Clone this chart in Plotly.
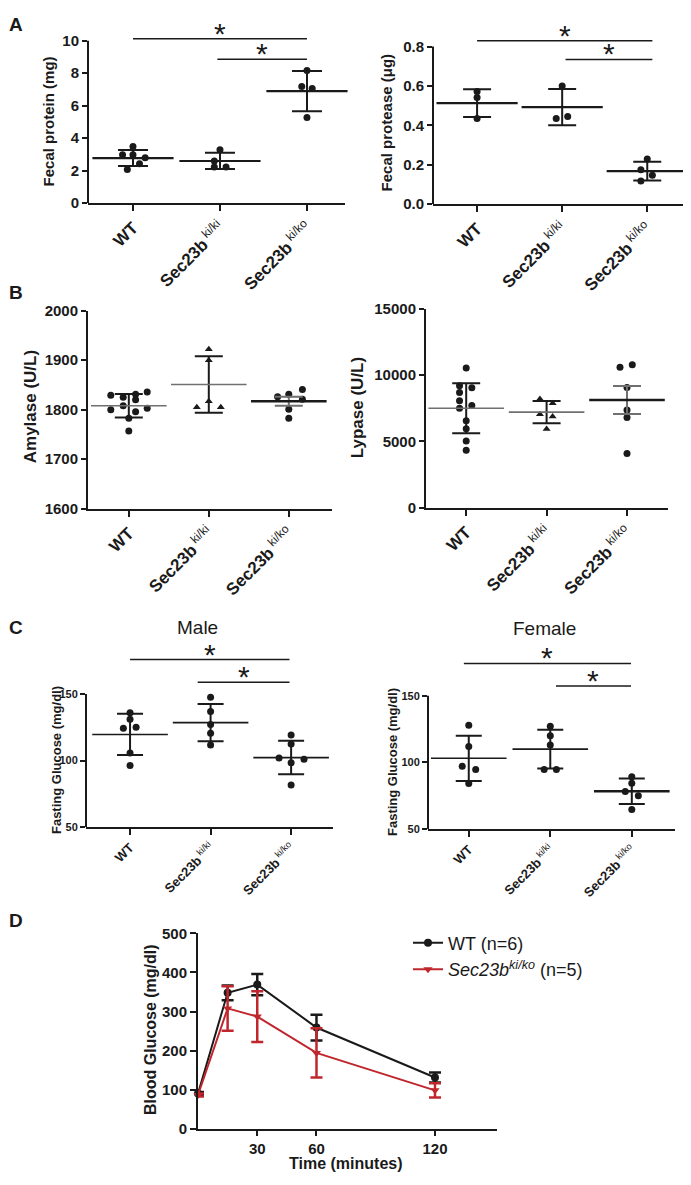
import plotly.graph_objects as go

# the page puts an 8px body margin round the figure, so the figure is drawn
# 16px smaller than the 691x1185 window and every position is measured from the window
W, H = 691, 1185
OFF = 8
FW, FH = W - 2 * OFF, H - 2 * OFF

FONT = "Liberation Sans, Arial, sans-serif"
BLACK = "#1a1a1a"
GREY = "#707070"
RED = "#c0272d"

groups = ["WT", "Sec23b ki/ki", "Sec23b ki/ko"]
group_ticks = ["<b>WT</b>", "<b>Sec23b</b><sup> ki/ki</sup>", "<b>Sec23b</b><sup> ki/ko</sup>"]

# A - fecal protein (mg)
protein_wt = [3.49, 2.98, 2.98, 2.80, 2.07, 2.43]
protein_kiki = [3.29, 2.60, 2.23, 2.23]
protein_kiko = [8.17, 7.18, 7.06, 5.27]
protein_mean = [2.78, 2.60, 6.90]
protein_sd = [0.49, 0.50, 1.24]

# A - fecal protease (ug)
protease_wt = [0.572, 0.542, 0.435]
protease_kiki = [0.600, 0.435, 0.445]
protease_kiko = [0.230, 0.175, 0.147, 0.118]
protease_mean = [0.513, 0.493, 0.168]
protease_sd = [0.070, 0.092, 0.048]

# B - amylase (U/L)
amylase_wt = [1829, 1825, 1831, 1836, 1808, 1820, 1800, 1796, 1803, 1783, 1757]
amylase_kiki = [1922, 1900, 1817, 1805, 1805]
amylase_kiko = [1826, 1831, 1841, 1821, 1801, 1783]
amylase_mean = [1808, 1851, 1817]
amylase_err = [23.5, 57, 9]

# B - lypase (U/L)
lypase_wt = [10523, 9186, 9037, 8688, 8072, 7500, 7700, 6557, 5963, 5027, 4329]
lypase_kiki = [8191, 7872, 7055, 6884, 5941]
lypase_kiko = [10597, 10768, 9060, 7374, 6810, 4084]
lypase_mean = [7500, 7203, 8117]
lypase_err = [1882, 840, 1050]

# C - fasting glucose (mg/dl), male / female
male_wt = [135.9, 131.0, 124.2, 125.0, 105.6, 96.2]
male_kiki = [147.5, 136.9, 127.0, 120.4, 111.7]
male_kiko = [119.1, 112.5, 101.9, 98.3, 101.0, 81.6]
male_mean = [119.6, 128.5, 102.2]
male_sd = [15.5, 14.0, 12.6]

female_wt = [127.9, 111.9, 97.2, 94.7, 84.2]
female_kiki = [127.1, 120.0, 113.1, 94.7, 94.7]
female_kiko = [89.2, 84.3, 78.1, 74.9, 64.6]
female_mean = [103.1, 110.0, 78.4]
female_sd = [17.0, 14.5, 9.6]

# D - glucose tolerance
minutes = [0, 15, 30, 60, 120]
gtt_wt = [90, 348, 369, 259, 131]
gtt_wt_err = [4, 19, 27, 33, 13]
gtt_kiko = [86, 308, 287, 194, 98]
gtt_kiko_err = [4, 57, 65, 63, 18]

# horizontal spread of the dots inside each column (in category units)
jit_protein = [[0, -0.12, 0, 0.14, -0.065, 0.075], [0, -0.065, -0.065, 0.07], [0, -0.06, 0.06, 0]]
jit_protease = [[0, 0, 0], [0, -0.07, 0.065], [0, -0.075, 0.06, -0.075]]
jit_amylase = [[-0.225, -0.07, 0.085, 0.23, -0.07, 0.085, -0.225, 0.085, 0.23, 0, 0],
               [0, 0, 0, -0.15, 0.15], [-0.14, 0, 0.17, 0.17, 0, 0]]
jit_lypase = [[0, -0.083, 0.07, -0.083, -0.083, -0.083, 0.07, 0, 0, 0, 0],
              [-0.083, 0.075, -0.083, 0.075, 0], [-0.087, 0.066, 0, 0, 0, 0]]
jit_male = [[0, 0, -0.083, 0.075, 0, 0], [0, 0, 0, 0, 0], [0, 0, -0.15, 0, 0.16, 0]]
jit_female = [[0, 0, -0.08, 0.085, 0], [0, 0, 0, -0.075, 0.075], [0, 0, -0.08, 0.08, 0]]


def px(x):
    return (x - OFF) / FW


def py(y):
    return 1 - (y - OFF) / FH


def xd(a, b):
    return [px(a), px(b)]


def yd(top, bottom):
    return [py(bottom), py(top)]


def names(i):
    return ("x" if i == 1 else f"x{i}"), ("y" if i == 1 else f"y{i}")


fig = go.Figure()
annotations = []
shapes = []


def dot_panel(i, vals, jit, mean, err, symbols, mean_col, mean_w, err_col, half, cap, dot=7):
    xn, yn = names(i)
    for g in range(3):
        fig.add_trace(go.Scatter(
            x=[g + d for d in jit[g]], y=vals[g], mode="markers",
            marker=dict(symbol=symbols[g], size=dot, color=BLACK),
            xaxis=xn, yaxis=yn, showlegend=False, cliponaxis=False))
        fig.add_trace(go.Scatter(
            x=[g], y=[mean[g]], mode="markers",
            marker=dict(symbol="line-ew", size=2 * half, color=mean_col[g],
                        line=dict(width=mean_w[g], color=mean_col[g])),
            error_y=dict(type="data", array=[err[g]], width=cap, thickness=2, color=err_col[g]),
            xaxis=xn, yaxis=yn, showlegend=False, cliponaxis=False))


def sig(i, x0, x1, h, star_size=30):
    xn, yn = names(i)
    fig.add_trace(go.Scatter(x=[x0, x1], y=[h, h], mode="lines",
                             line=dict(color=BLACK, width=1.5),
                             xaxis=xn, yaxis=yn, showlegend=False, hoverinfo="skip"))
    annotations.append(dict(x=(x0 + x1) / 2, y=h, xref=xn, yref=yn, text="*",
                            showarrow=False, yanchor="bottom", yshift=-13,
                            font=dict(size=star_size, color=BLACK, family=FONT)))


def yline(i, xpx, y0, y1):
    xn, yn = names(i)
    shapes.append(dict(type="line", xref="paper", yref=yn, x0=px(xpx), x1=px(xpx), y0=y0, y1=y1,
                       line=dict(color=BLACK, width=2)))


def ytitle(text, x, y, size):
    annotations.append(dict(x=px(x), y=py(y), xref="paper", yref="paper", text=text,
                            textangle=-90, showarrow=False, xanchor="center", yanchor="middle",
                            font=dict(size=size, color=BLACK, family=FONT, weight="bold")))


circles = ["circle"] * 3
thick = [2.2, 2.2, 2.2]

# A
dot_panel(1, [protein_wt, protein_kiki, protein_kiko], jit_protein, protein_mean, protein_sd,
          circles, [BLACK] * 3, thick, [BLACK] * 3, 29, 15)
sig(1, 0, 2, 10.12)
sig(1, 0.97, 2, 8.85)
yline(1, 88, 0, 10)

dot_panel(2, [protease_wt, protease_kiki, protease_kiko], jit_protease, protease_mean, protease_sd,
          circles, [BLACK] * 3, thick, [BLACK] * 3, 29, 14)
sig(2, 0, 2.06, 0.83)
sig(2, 1.04, 2.06, 0.735)
yline(2, 433, 0, 0.8)

# B
dot_panel(3, [amylase_wt, amylase_kiki, amylase_kiko], jit_amylase, amylase_mean, amylase_err,
          ["circle", "triangle-up", "circle"], [GREY, GREY, BLACK], [1.6, 1.6, 2.6],
          [BLACK, BLACK, GREY], 27, 14)
dot_panel(4, [lypase_wt, lypase_kiki, lypase_kiko], jit_lypase, lypase_mean, lypase_err,
          ["circle", "triangle-up", "circle"], [GREY, GREY, BLACK], [1.6, 1.6, 2.6],
          [BLACK, BLACK, GREY], 27, 14)

# C
dot_panel(5, [male_wt, male_kiki, male_kiko], jit_male, male_mean, male_sd,
          circles, [BLACK] * 3, [1.6, 1.6, 1.6], [BLACK] * 3, 27, 13)
sig(5, 0, 1.98, 175.9)
sig(5, 0.84, 1.98, 158.9)
yline(5, 86, 50, 150)

dot_panel(6, [female_wt, female_kiki, female_kiko], jit_female, female_mean, female_sd,
          circles, [BLACK] * 3, [1.6, 1.6, 2.4], [BLACK] * 3, 27, 13)
sig(6, -0.06, 1.99, 174.4)
sig(6, 1.07, 1.99, 157.4)
yline(6, 428, 50, 150)

# D
fig.add_trace(go.Scatter(x=minutes, y=gtt_wt, mode="lines+markers", name="WT (n=6)",
                         line=dict(color=BLACK, width=2), marker=dict(symbol="circle", size=8, color=BLACK),
                         error_y=dict(type="data", array=gtt_wt_err, width=6, thickness=2.5, color=BLACK),
                         xaxis="x7", yaxis="y7", cliponaxis=False))
fig.add_trace(go.Scatter(x=minutes, y=gtt_kiko, mode="lines+markers",
                         name="<i>Sec23b<sup>ki/ko</sup></i> (n=5)",
                         line=dict(color=RED, width=2), marker=dict(symbol="triangle-down", size=8, color=RED),
                         error_y=dict(type="data", array=gtt_kiko_err, width=6, thickness=2.5, color=RED),
                         xaxis="x7", yaxis="y7", cliponaxis=False))

# axes, positions given in window pixels
panels = {
    1: dict(xs=(88, 345), ys=(15, 197), xr=[-0.517, 2.437], yr=[0, 11.03],
            yt=[0, 2, 4, 6, 8, 10], yfmt="", ysize=15, xsize=17, yline=False),
    2: dict(xs=(433, 683), ys=(15, 198), xr=[-0.518, 2.42], yr=[0, 0.915],
            yt=[0, 0.2, 0.4, 0.6, 0.8], yfmt=".1f", ysize=15, xsize=17, yline=False),
    3: dict(xs=(88, 332), ys=(306, 507), xr=[-0.51, 2.54], yr=[1600, 2000],
            yt=[1600, 1700, 1800, 1900, 2000], yfmt="", ysize=15, xsize=17, yline=True),
    4: dict(xs=(426, 668), ys=(304, 506), xr=[-0.5, 2.51], yr=[0, 15000],
            yt=[0, 5000, 10000, 15000], yfmt="d", ysize=15, xsize=17, yline=True),
    5: dict(xs=(86, 333), ys=(655, 830), xr=[-0.547, 2.52], yr=[50, 179.6],
            yt=[50, 100, 150], yfmt="", ysize=11, xsize=13, yline=False),
    6: dict(xs=(428, 675), ys=(655, 832), xr=[-0.5, 2.53], yr=[50, 181],
            yt=[50, 100, 150], yfmt="", ysize=11, xsize=13, yline=False),
}

layout_axes = {}
for i, p in panels.items():
    xn, yn = names(i)
    xkey = "xaxis" if i == 1 else f"xaxis{i}"
    ykey = "yaxis" if i == 1 else f"yaxis{i}"
    layout_axes[xkey] = dict(
        domain=xd(*p["xs"]), range=p["xr"], anchor=yn, tickmode="array",
        tickvals=[0, 1, 2], ticktext=group_ticks, tickangle=-45,
        ticks="outside", ticklen=6, tickwidth=2, tickcolor=BLACK,
        showline=True, linewidth=2, linecolor=BLACK, showgrid=False, zeroline=False,
        tickfont=dict(size=p["xsize"], color=BLACK, family=FONT))
    layout_axes[ykey] = dict(
        domain=yd(*p["ys"]), range=p["yr"], anchor=xn, tickmode="array",
        tickvals=p["yt"], tickformat=p["yfmt"],
        ticks="outside", ticklen=5, tickwidth=2, tickcolor=BLACK,
        showline=p["yline"], linewidth=2, linecolor=BLACK, showgrid=False, zeroline=False,
        tickfont=dict(size=p["ysize"], color=BLACK, family=FONT, weight="bold"))

layout_axes["xaxis7"] = dict(
    domain=xd(198, 497), range=[0, 151.4], anchor="y7", tickmode="array", tickvals=[30, 60, 120],
    ticks="outside", ticklen=5, tickwidth=2, tickcolor=BLACK,
    showline=True, linewidth=2, linecolor=BLACK, showgrid=False, zeroline=False,
    tickfont=dict(size=15, color=BLACK, family=FONT, weight="bold"))
layout_axes["yaxis7"] = dict(
    domain=yd(938, 1136), range=[0, 500], anchor="x7", dtick=100,
    ticks="outside", ticklen=6, tickwidth=2, tickcolor=BLACK,
    showline=True, linewidth=2, linecolor=BLACK, showgrid=False, zeroline=False,
    tickfont=dict(size=15, color=BLACK, family=FONT, weight="bold"))

# axis titles
ytitle("Fecal protein (mg)", 48, 114, 15)
ytitle("Fecal protease (μg)", 386, 115, 15)
ytitle("Amylase (U/L)", 30, 404, 17)
ytitle("Lypase (U/L)", 357, 405, 17)
ytitle("Fasting Glucose (mg/dl)", 56, 762, 13)
ytitle("Fasting Glucose (mg/dl)", 392, 764, 13)
ytitle("Blood Glucose (mg/dl)", 150, 1036, 16)
annotations.append(dict(x=px(346), y=py(1171), xref="paper", yref="paper", text="Time (minutes)",
                        showarrow=False, xanchor="center", yanchor="middle", borderpad=0,
                        font=dict(size=16, color=BLACK, family=FONT, weight="bold")))

# panel titles and letters
for text, x, y in [("Male", 197, 628), ("Female", 544, 629)]:
    annotations.append(dict(x=px(x), y=py(y), xref="paper", yref="paper", text=text,
                            showarrow=False, xanchor="center", yanchor="middle",
                            font=dict(size=19, color=BLACK, family=FONT)))
for text, y in [("A", 16), ("B", 288), ("C", 628), ("D", 925)]:
    annotations.append(dict(x=0, y=py(y), xref="paper", yref="paper", text=f"<b>{text}</b>",
                            showarrow=False, xanchor="left", yanchor="middle", borderpad=0,
                            font=dict(size=19, color=BLACK, family=FONT)))

fig.update_layout(
    width=FW, height=FH, margin=dict(l=0, r=0, t=0, b=0),
    paper_bgcolor="white", plot_bgcolor="white",
    font=dict(family=FONT, color=BLACK),
    showlegend=True,
    legend=dict(x=px(408), y=py(929), xanchor="left", yanchor="top",
                bgcolor="rgba(0,0,0,0)", font=dict(size=18, color=BLACK, family=FONT)),
    annotations=annotations, shapes=shapes,
    **layout_axes)

fig.write_html("out.html", config={"displayModeBar": False})
